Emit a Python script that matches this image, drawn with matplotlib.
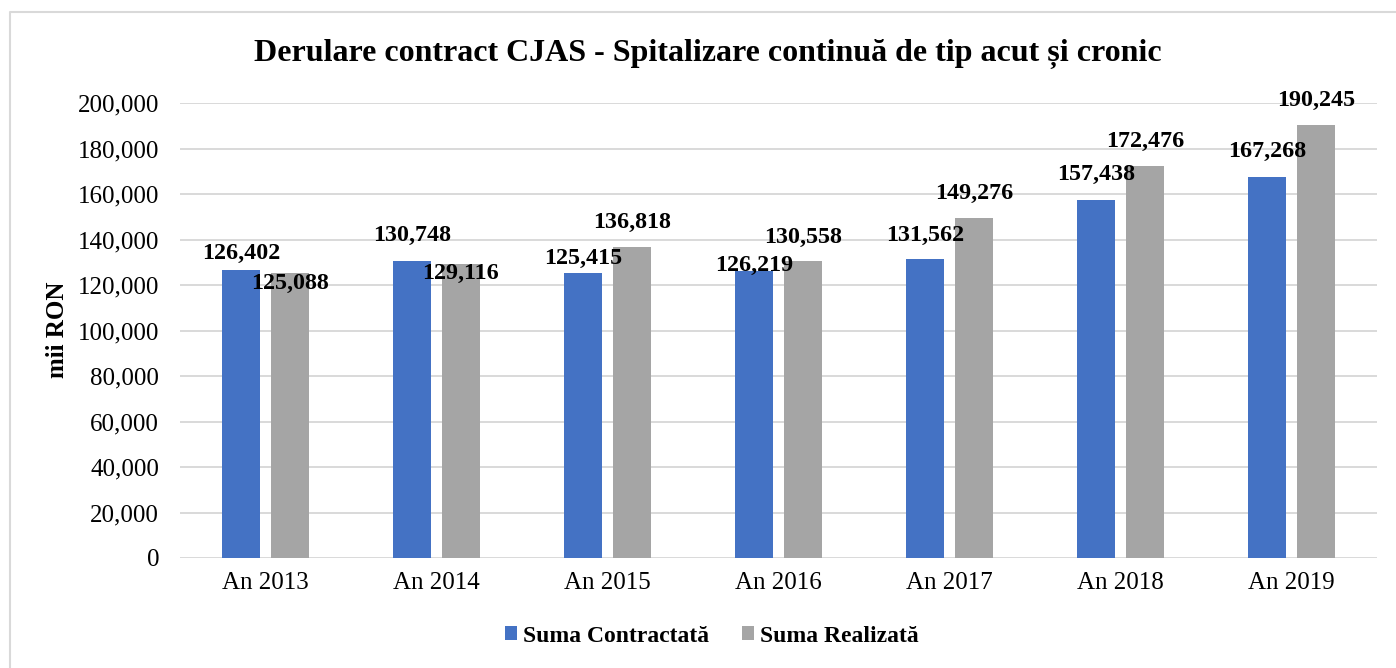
import matplotlib
matplotlib.use("Agg")
import matplotlib.pyplot as plt
import numpy as np
from matplotlib.patches import Patch
from matplotlib.lines import Line2D
from matplotlib.ticker import FuncFormatter

# ---- data ----
categories = ["An 2013", "An 2014", "An 2015", "An 2016", "An 2017", "An 2018", "An 2019"]
suma_contractata = [126402, 130748, 125415, 126219, 131562, 157438, 167268]
suma_realizata = [125088, 129116, 136818, 130558, 149276, 172476, 190245]
series_names = ["Suma Contractată", "Suma Realizată"]
title = "Derulare contract CJAS - Spitalizare continuă de tip acut și cronic"
ylabel = "mii RON"

# label vertical offsets (pixels, positive = up) to mimic the original placement
off_contr = [17, 25, 14, 5, 23, 25, 26]
off_real = [-10.5, -9, 24, 24, 25, 24.5, 24.5]

W, H = 1396, 668
plt.rcParams['font.family'] = ['Liberation Serif', 'DejaVu Serif']
fig = plt.figure(figsize=(W / 100, H / 100), dpi=100)
ax = fig.add_axes([180 / W, 1 - 558 / H, (1377 - 180) / W, (558 - 103) / H])

blue = "#4472C4"
gray = "#A5A5A5"
grid = "#D9D9D9"

x = np.arange(len(categories))
bw = 0.222
off = 0.143
ax.bar(x - off, suma_contractata, bw, color=blue, zorder=3)
ax.bar(x + off, suma_realizata, bw, color=gray, zorder=3)

ax.set_xlim(-0.5, len(categories) - 0.5)
ax.set_ylim(0, 200000)
ax.set_yticks(np.arange(0, 200001, 20000))
ax.yaxis.set_major_formatter(FuncFormatter(lambda v, p: f"{int(v):,}"))
ax.set_xticks(x)
ax.set_xticklabels(categories)
ax.tick_params(axis='both', length=0, labelsize=18, colors='black')
ax.tick_params(axis='y', pad=15)
ax.tick_params(axis='x', pad=10)
ax.yaxis.grid(True, color=grid, linewidth=1.4, zorder=0)
for s in ax.spines.values():
    s.set_visible(False)

for xi, v, o in zip(x, suma_contractata, off_contr):
    ax.annotate(f"{v:,}", xy=(xi - off, v), xytext=(0, o), textcoords='offset pixels',
                ha='center', va='center', fontsize=17.3, fontweight='bold', zorder=5)
for xi, v, o in zip(x, suma_realizata, off_real):
    ax.annotate(f"{v:,}", xy=(xi + off, v), xytext=(0, o), textcoords='offset pixels',
                ha='center', va='center', fontsize=17.3, fontweight='bold', zorder=5)

fig.text(57 / W, 1 - 330 / H, ylabel, rotation=90, ha='center', va='center',
         fontsize=18, fontweight='bold')

t = fig.text(708 / W, 1 - 54 / H, title, ha='center', va='center', fontsize=21, fontweight='bold')
fig.canvas.draw()
wdt = t.get_window_extent().width
t.set_fontsize(21 * 904 / wdt)

handles = [Patch(facecolor=blue, edgecolor='none'), Patch(facecolor=gray, edgecolor='none')]
fig.legend(handles, series_names, loc='center', bbox_to_anchor=(712 / W, 1 - 636 / H),
           ncol=2, frameon=False, prop={'weight': 'bold', 'size': 17},
           handlelength=0.5, handleheight=0.5, handletextpad=0.25, columnspacing=1.4)

# outer chart border (left and top visible)
fig.add_artist(Line2D([10 / W, 10 / W, 1.0], [0.0, 1 - 12 / H, 1 - 12 / H],
                      transform=fig.transFigure, color=grid, linewidth=1.5))

fig.savefig("out.png", dpi=100)
